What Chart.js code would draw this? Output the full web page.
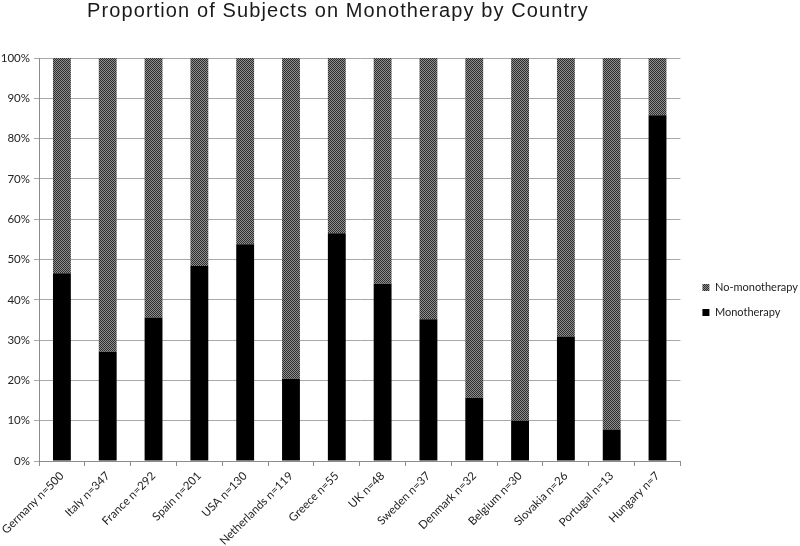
<!DOCTYPE html>
<html>
<head>
<meta charset="utf-8">
<script src="https://cdn.jsdelivr.net/npm/chart.js@4/dist/chart.umd.min.js"></script>
<style>
  html, body { margin: 0; padding: 0; background: #fff; }
  #wrap { width: 800px; height: 546px; }
</style>
</head>
<body>
<div id="wrap"><canvas id="chart" width="800" height="546"></canvas></div>
<script>
const chartTitle = 'Proportion of Subjects on Monotherapy by Country';

const countries = [
  'Germany n=500', 'Italy n=347', 'France n=292', 'Spain n=201', 'USA n=130',
  'Netherlands n=119', 'Greece n=55', 'UK n=48', 'Sweden n=37', 'Denmark n=32',
  'Belgium n=30', 'Slovakia n=26', 'Portugal n=13', 'Hungary n=7'
];

// percent of subjects on monotherapy
const monotherapy = [46.6, 27.1, 35.6, 48.4, 53.8, 20.4, 56.5, 44.0, 35.2, 15.7, 10.0, 30.9, 7.8, 85.8];
const noMonotherapy = [53.4, 72.9, 64.4, 51.6, 46.2, 79.6, 43.5, 56.0, 64.8, 84.3, 90.0, 69.1, 92.2, 14.2];

const yTicks = [0, 10, 20, 30, 40, 50, 60, 70, 80, 90, 100];

// checkered grey fill like the original print pattern
function makePattern() {
  const c = document.createElement('canvas');
  c.width = 2;
  c.height = 2;
  const g = c.getContext('2d');
  g.fillStyle = '#8e8e8e';
  g.fillRect(0, 0, 2, 2);
  g.fillStyle = '#2e2e2e';
  g.fillRect(0, 0, 1, 1);
  g.fillRect(1, 1, 1, 1);
  return g.createPattern(c, 'repeat');
}

const titlePlugin = {
  id: 'titleText',
  afterDraw(chart) {
    const ctx = chart.ctx;
    ctx.save();
    ctx.font = '20px "Liberation Sans", Arial, sans-serif';
    ctx.letterSpacing = '1.1px';
    ctx.fillStyle = '#1a1a1a';
    ctx.textAlign = 'center';
    ctx.textBaseline = 'alphabetic';
    ctx.fillText(chartTitle, 338, 17);
    ctx.restore();
  }
};

// legend sits a little right of the plot in the original
const legendNudge = {
  id: 'legendNudge',
  afterLayout(chart) {
    chart.legend.left += 8;
    chart.legend.right += 8;
    chart.legend.top -= 2;
    chart.legend.bottom -= 2;
  }
};

const ctx = document.getElementById('chart').getContext('2d');

new Chart(ctx, {
  type: 'bar',
  data: {
    labels: countries,
    datasets: [
      {
        label: 'Monotherapy',
        data: monotherapy,
        backgroundColor: '#000000',
        borderWidth: 0,
      },
      {
        label: 'No-monotherapy',
        data: noMonotherapy,
        backgroundColor: makePattern(),
        borderWidth: 0,
      },
    ],
  },
  options: {
    responsive: false,
    animation: false,
    datasets: {
      bar: {
        categoryPercentage: 1,
        barPercentage: 0.39,
      },
    },
    layout: {
      padding: { top: 58, right: 0, left: 0, bottom: 0 },
    },
    plugins: {
      title: { display: false },
      tooltip: { enabled: false },
      legend: {
        position: 'right',
        reverse: true,
        labels: {
          boxWidth: 7,
          boxHeight: 7,
          padding: 14,
          color: '#222',
          font: { family: 'Lato, "Open Sans", sans-serif', size: 11 },
        },
      },
    },
    scales: {
      x: {
        stacked: true,
        afterFit(axis) {
          axis.height = 85;
          axis.paddingLeft = 0;
          axis.paddingRight = 0;
        },
        grid: {
          offset: true,
          drawOnChartArea: false,
          drawTicks: true,
          tickLength: 5,
          color: '#8c8c8c',
        },
        border: { color: '#8c8c8c' },
        ticks: {
          color: '#222',
          minRotation: 45,
          maxRotation: 45,
          autoSkip: false,
          padding: 3,
          font: { family: 'Lato, "Open Sans", sans-serif', size: 11.5 },
        },
      },
      y: {
        stacked: true,
        min: 0,
        max: 100,
        afterBuildTicks(axis) {
          axis.ticks = yTicks.map(v => ({ value: v }));
        },
        afterFit(axis) {
          axis.width = 39;
        },
        grid: {
          color: '#a8a8a8',
          tickLength: 5,
        },
        border: { color: '#8c8c8c' },
        ticks: {
          color: '#222',
          padding: 4,
          font: { family: 'Lato, "Open Sans", sans-serif', size: 11.5 },
          callback: v => v + '%',
        },
      },
    },
  },
  plugins: [titlePlugin, legendNudge],
});
</script>
</body>
</html>
